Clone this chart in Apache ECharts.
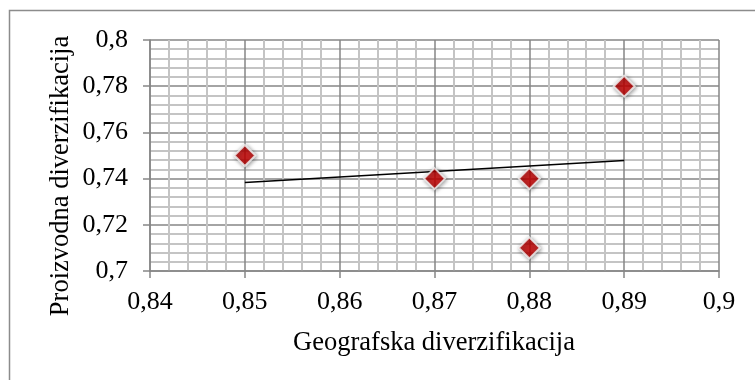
<!DOCTYPE html>
<html><head><meta charset="utf-8">
<script src="https://cdn.jsdelivr.net/npm/echarts@6/dist/echarts.min.js"></script>
<style>html,body{margin:0;padding:0;background:#fff}#c{width:755px;height:380px}</style>
</head><body><div id="c"></div>
<script>
var xValues = [0.85, 0.87, 0.88, 0.88, 0.89];
var yValues = [0.75, 0.74, 0.74, 0.71, 0.78];
var trendX = [0.85, 0.89];
var trendY = [0.7383, 0.7478];
var xTitle = 'Geografska diverzifikacija';
var yTitle = 'Proizvodna diverzifikacija';

var pts = xValues.map(function(x, i){ return [x, yValues[i]]; });
var trend = trendX.map(function(x, i){ return [x, trendY[i]]; });
function fmt(v){ return String(parseFloat(v.toFixed(2))).replace('.', ','); }
var font = '"Liberation Serif", "Times New Roman", serif';

var chart = echarts.init(document.getElementById('c'), null, {renderer:'canvas'});
chart.setOption({
  animation:false,
  grid:{left:150, right:36, top:40, bottom:109, containLabel:false},
  xAxis:{
    type:'value', min:0.84, max:0.9, interval:0.01,
    axisLine:{show:true, lineStyle:{color:'#868686', width:1.5}},
    axisTick:{show:true, length:7, lineStyle:{color:'#868686', width:1.5}},
    axisLabel:{formatter:fmt, fontFamily:font, fontSize:26, color:'#000', margin:18},
    splitLine:{show:true, lineStyle:{color:'#868686', width:1.5}},
    minorTick:{show:false, splitNumber:5},
    minorSplitLine:{show:true, lineStyle:{color:'#c4c4c4', width:2}}
  },
  yAxis:{
    type:'value', min:0.7, max:0.8, interval:0.02,
    axisLine:{show:true, lineStyle:{color:'#868686', width:1.5}},
    axisTick:{show:true, length:7, lineStyle:{color:'#868686', width:1.5}},
    axisLabel:{formatter:fmt, fontFamily:font, fontSize:26, color:'#000', margin:22},
    splitLine:{show:true, lineStyle:{color:'#868686', width:1.5}},
    minorTick:{show:false, splitNumber:5},
    minorSplitLine:{show:true, lineStyle:{color:'#c4c4c4', width:2}}
  },
  graphic:[
    {type:'rect', silent:true, z:-10, shape:{x:9.5, y:10.5, width:800, height:400}, style:{fill:'none', stroke:'#8c8c8c', lineWidth:1.5}},
    {type:'text', silent:true, x:434, y:343, style:{text:xTitle, font:'26.5px ' + font, fill:'#000', align:'center', verticalAlign:'middle'}},
    {type:'text', silent:true, x:61, y:176, rotation:Math.PI/2, style:{text:yTitle, font:'26.5px ' + font, fill:'#000', align:'center', verticalAlign:'middle'}}
  ],
  series:[
    {type:'line', data:trend, showSymbol:false, symbol:'none', lineStyle:{color:'#000', width:1.5}, z:3},
    {type:'scatter', data:pts, symbol:'diamond', symbolSize:[21,21], z:4,
     itemStyle:{color:'#c80000', borderColor:'#f2f2f2', borderWidth:2, shadowBlur:4, shadowColor:'rgba(0,0,0,0.45)', shadowOffsetX:1, shadowOffsetY:1}}
  ]
});
</script></body></html>
